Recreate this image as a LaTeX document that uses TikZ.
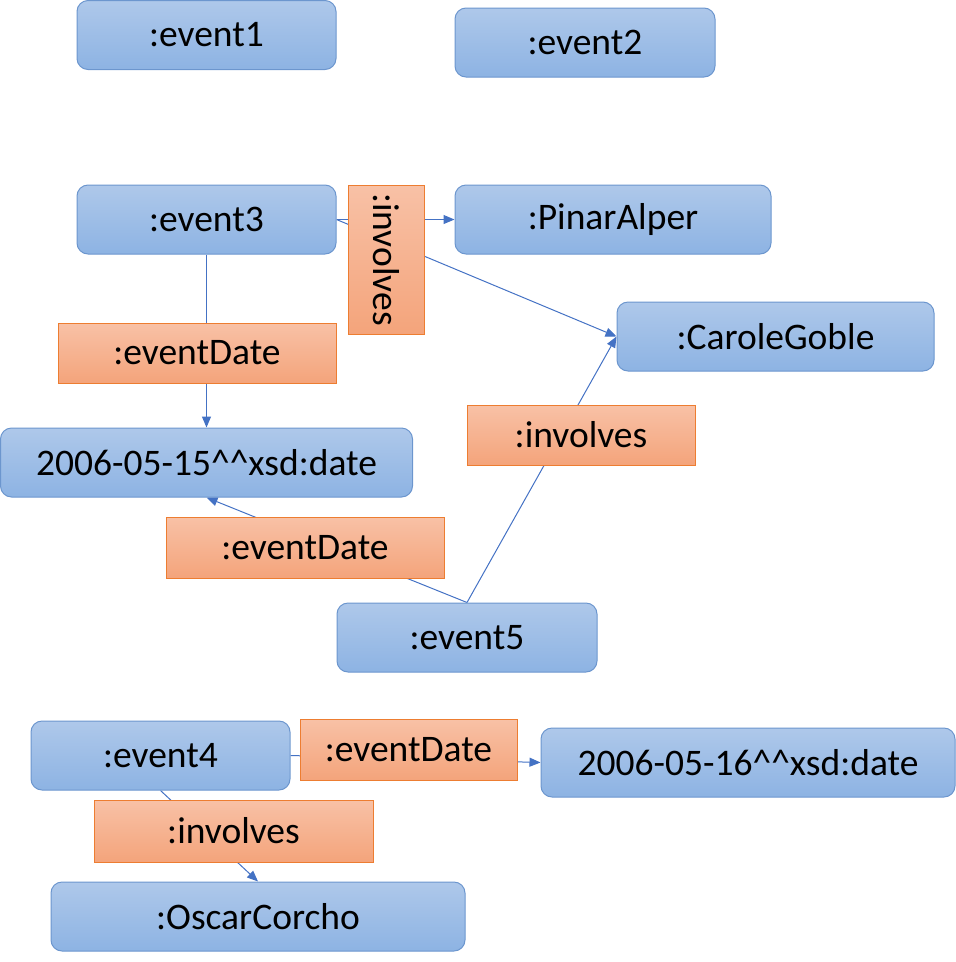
\documentclass[tikz,border=0pt]{standalone}
\usepackage{fontspec}
\setmainfont{Carlito}
\usetikzlibrary{arrows.meta}
\pgfdeclarelayer{bg}
\pgfsetlayers{bg,main}
\definecolor{bluetop}{HTML}{AEC8EA}
\definecolor{bluebot}{HTML}{8DB3E3}
\definecolor{blueline}{HTML}{6C96CE}
\definecolor{orangetop}{HTML}{F8C1A6}
\definecolor{orangebot}{HTML}{F4A47B}
\definecolor{orangeline}{HTML}{ED7D31}
\definecolor{conn}{HTML}{4472C4}
\tikzset{
  res/.style={draw=blueline, line width=1pt, rounded corners=11pt, top color=bluetop, bottom color=bluebot,
    inner sep=0pt, font=\fontsize{37.5}{42}\selectfont, text=black},
  prop/.style={draw=orangeline, line width=1pt, top color=orangetop, bottom color=orangebot,
    inner sep=0pt, font=\fontsize{37.5}{42}\selectfont, text=black},
  conn/.style={draw=conn, line width=1pt, -{Triangle[length=11pt,width=9pt]}},
  plain/.style={draw=conn, line width=1pt}
}
\begin{document}
\begin{tikzpicture}[x=1pt,y=-1pt]
\useasboundingbox (0,0) rectangle (956,962);
% resources
\node[res, minimum width=259pt, minimum height=69pt] (e1) at (206.5,35) {:event1};
\node[res, minimum width=260pt, minimum height=69pt] (e2) at (585,42.5) {:event2};
\node[res, minimum width=259pt, minimum height=69pt] (e3) at (206.5,219.5) {:event3};
\node[res, minimum width=316pt, minimum height=69pt] (pa) at (613,219.5) {:PinarAlper};
\node[res, minimum width=317pt, minimum height=69pt] (cg) at (775.5,336.5) {:CaroleGoble};
\node[res, minimum width=412pt, minimum height=69pt] (d1) at (206.5,462.5) {2006-05-15\^{}\^{}xsd:date};
\node[res, minimum width=260pt, minimum height=69pt] (e5) at (467,637.5) {:event5};
\node[res, minimum width=259pt, minimum height=69pt] (e4) at (160.5,755.5) {:event4};
\node[res, minimum width=414pt, minimum height=69pt] (d2) at (748,762.5) {2006-05-16\^{}\^{}xsd:date};
\node[res, minimum width=414pt, minimum height=69pt] (oc) at (258,916.5) {:OscarCorcho};
% connectors
\begin{pgfonlayer}{bg}
\draw[conn] (e3.east) -- (pa.west);
\draw[conn] (e3.east) -- (cg.west);
\draw[conn] (e3.south) -- (d1.north);
\draw[conn] (e5.north) -- (cg.west);
\draw[conn] (e5.north) -- (d1.south);
\draw[conn] (e4.east) -- (d2.west);
\draw[conn] (e4.south) -- (oc.north);
\end{pgfonlayer}
% property labels
\node[prop, minimum width=76pt, minimum height=149pt] (l1) at (386,259.5) {\rotatebox{-90}{:involves}};
\node[prop, minimum width=278pt, minimum height=60pt] (l2) at (197,353) {:eventDate};
\node[prop, minimum width=228pt, minimum height=60pt] (l3) at (581,435) {:involves};
\node[prop, minimum width=278pt, minimum height=61pt] (l4) at (305,547.5) {:eventDate};
\node[prop, minimum width=217pt, minimum height=61pt] (l5) at (408.5,749.5) {:eventDate};
\node[prop, minimum width=279pt, minimum height=62pt] (l6) at (233.5,831) {:involves};
\end{tikzpicture}
\end{document}
